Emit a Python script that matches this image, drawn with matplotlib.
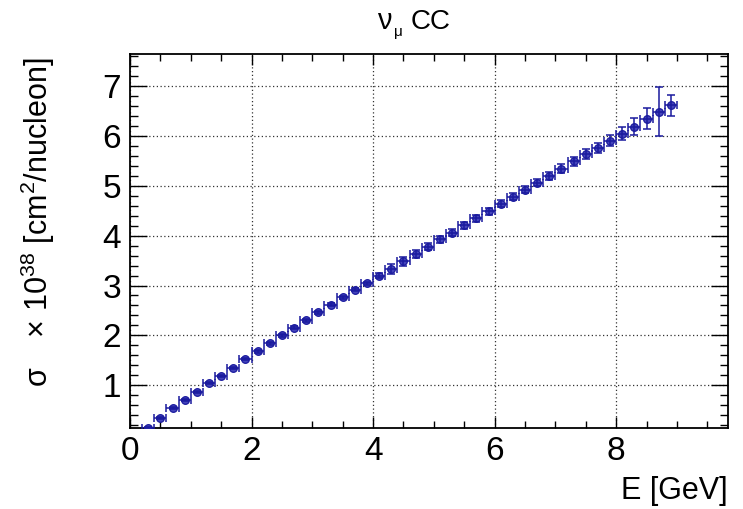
import matplotlib
matplotlib.use("Agg")
import matplotlib.pyplot as plt
from matplotlib.ticker import MultipleLocator

plt.rcParams['font.family'] = ['Liberation Sans', 'DejaVu Sans']
plt.rcParams['mathtext.fontset'] = 'custom'
plt.rcParams['mathtext.rm'] = 'Liberation Sans'
plt.rcParams['mathtext.it'] = 'Liberation Sans:italic'
plt.rcParams['mathtext.bf'] = 'Liberation Sans:bold'

# Neutrino energy bin centres [GeV] and bin half-width
energy = [0.3, 0.5, 0.7, 0.9, 1.1, 1.3, 1.5, 1.7, 1.9, 2.1, 2.3,
          2.5, 2.7, 2.9, 3.1, 3.3, 3.5, 3.7, 3.9, 4.1, 4.3, 4.5,
          4.7, 4.9, 5.1, 5.3, 5.5, 5.7, 5.9, 6.1, 6.3, 6.5, 6.7,
          6.9, 7.1, 7.3, 7.5, 7.7, 7.9, 8.1, 8.3, 8.5, 8.7, 8.9]
energy_halfwidth = 0.1

# nu_mu CC cross section per nucleon, in units of 1e-38 cm^2
xsec = [0.15, 0.34, 0.54, 0.71, 0.87, 1.04, 1.19, 1.35, 1.52, 1.68, 1.84,
        2.00, 2.15, 2.30, 2.46, 2.61, 2.76, 2.91, 3.05, 3.20, 3.34, 3.49,
        3.64, 3.78, 3.93, 4.06, 4.21, 4.35, 4.49, 4.64, 4.78, 4.92, 5.06,
        5.20, 5.34, 5.49, 5.63, 5.76, 5.90, 6.04, 6.18, 6.34, 6.48, 6.61]
xsec_err = [0.02, 0.02, 0.02, 0.02, 0.02, 0.02, 0.02, 0.02, 0.02, 0.03, 0.03,
            0.03, 0.03, 0.03, 0.03, 0.03, 0.03, 0.03, 0.03, 0.05, 0.10, 0.09,
            0.08, 0.07, 0.07, 0.07, 0.07, 0.07, 0.07, 0.07, 0.07, 0.07, 0.07,
            0.08, 0.09, 0.09, 0.10, 0.10, 0.11, 0.13, 0.17, 0.21, 0.49, 0.21]

blue = '#1a1a9e'

fig = plt.figure(figsize=(7.43, 5.09), dpi=100)
ax = fig.add_axes([130 / 743, 1 - 427.7 / 509, 598 / 743, 373.7 / 509])

ax.plot(energy, xsec, linestyle='none', marker='o', markersize=5.5,
        markerfacecolor='#4444bb', markeredgecolor=blue, markeredgewidth=0.9,
        zorder=3)
ax.errorbar(energy, xsec, xerr=energy_halfwidth, yerr=xsec_err,
            fmt='none', ecolor=blue, elinewidth=1.1, capsize=3.0,
            capthick=1.1, zorder=4)

ax.set_xlim(0, 9.84)
ax.set_ylim(0.15, 7.64)

ax.xaxis.set_major_locator(MultipleLocator(2))
ax.xaxis.set_minor_locator(MultipleLocator(0.5))
ax.yaxis.set_major_locator(MultipleLocator(1))
ax.yaxis.set_minor_locator(MultipleLocator(0.2))

ax.grid(True, which='major', linestyle=(0, (1, 2)), color='#333333',
        linewidth=0.9)
ax.set_axisbelow(True)

ax.tick_params(which='both', direction='in', top=True, right=True,
               labelsize=24, width=1.0, color='black')
ax.tick_params(axis='x', which='major', length=8, pad=6)
ax.tick_params(axis='x', which='minor', length=5)
ax.tick_params(axis='y', which='major', length=12, pad=6.5)
ax.tick_params(axis='y', which='minor', length=6)

for side in ax.spines.values():
    side.set_linewidth(1.3)

ax.set_xlabel('E [GeV]', fontsize=22, loc='right')
ax.xaxis.set_label_coords(1.0, -0.13)
ax.set_ylabel(r'$\mathregular{\sigma\ \ \ \times\,10^{38}}$ [cm$\mathregular{^{2}}$/nucleon]',
              fontsize=22, loc='top')
ax.yaxis.set_label_coords(-0.122, 0.992)

# Title: nu_mu CC
fig.text(377 / 743, 1 - 29 / 509, '\u03bd', ha='left', va='baseline',
         fontsize=21)
fig.text(394 / 743, 1 - 36 / 509, '\u03bc', ha='left', va='baseline',
         fontsize=11)
fig.text(411 / 743, 1 - 29 / 509, 'CC', ha='left', va='baseline',
         fontsize=20)

fig.savefig('out.png', dpi=100)
